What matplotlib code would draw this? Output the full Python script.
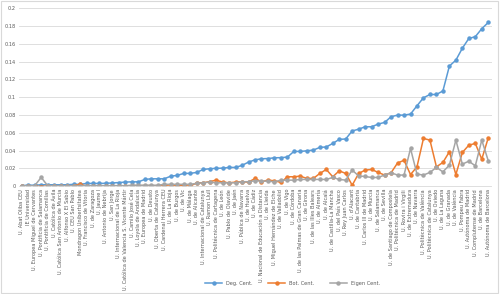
import matplotlib
matplotlib.use('Agg')
import matplotlib.pyplot as plt
from matplotlib.patches import Rectangle

universities = [
    'U. Abat Oliba CEU', 'IE Universidad', 'U. Europea Miguel de Cervantes',
    'U. Pontificia de Salamanca', 'U. Pontificia de Comillas', 'U. Católica de Ávila',
    'U. Católica San Antonio de Murcia', 'U. Alfonso X El Sabio', 'U. CEU San Pablo',
    'Mondragon Unibertsitatea', 'U. Francisco de Vitoria', 'U. de Zaragoza',
    'U. Jaume I', 'U. Antonio de Nebrija', 'U. San Jorge',
    'U. Internacional de La Rioja', 'U. Católica de Valencia S. Vicente Mártir',
    'U. Camilo José Cela', 'U. Loyola de Andalucía', 'U. Europea de Madrid',
    'U. de Deusto', 'U. Oberta de Catalunya', 'U. Cardenal Herrera CEU',
    'U. de La Rioja', 'U. de Burgos', 'U. de Vic', 'U. de Málaga', 'U. de Alicante',
    'U. Internacional de Catalunya', 'U. Ramon Llull', 'U. Politécnica de Cartagena',
    'U. de León', 'U. Pablo de Olavide', 'U. de Jaén', 'U. Pública de Navarra',
    'U. de Huelva', 'U. de Cádiz', 'U. Nacional de Educación a Distancia',
    'U. de Lleida', 'U. Miguel Hernández de Elche', 'U. de Valladolid', 'U. de Vigo',
    'U. de Córdoba', 'U. de las Palmas de Gran Canaria', 'U. de Girona',
    'U. de las Illes Balears', 'U. de Almería', 'U. de Alcalá',
    'U. de Castilla-La Mancha', 'U. del País Vasco', 'U. Rey Juan Carlos',
    "U. d'Alacant", 'U. de Cantabria',
    'U. Carlos III de Madrid', 'U. de Murcia', 'U. de Salamanca', 'U. de Sevilla',
    'U. de Santiago de Compostela', 'U. Politécnica de Madrid', 'U. Rovira i Virgili',
    'U. de Extremadura', 'U. de Navarra', 'U. Politècnica de València',
    'U. Politècnica de Catalunya', 'U. de Oviedo', 'U. de La Laguna', 'U. de Granada',
    'U. de València', 'U. Pompeu Fabra', 'U. Autónoma de Madrid',
    'U. Complutense de Madrid', 'U. de Barcelona', 'U. Autónoma de Barcelona',
]

deg_cent = [
    0.0005, 0.001, 0.001, 0.0015, 0.0015, 0.0015, 0.0015, 0.0015, 0.002, 0.002,
    0.003, 0.003, 0.003, 0.0032, 0.0035, 0.004, 0.0045, 0.0048, 0.0048, 0.0075,
    0.0082, 0.0082, 0.0082, 0.0112, 0.012, 0.0143, 0.0143, 0.0154, 0.0187, 0.0195,
    0.020, 0.0202, 0.021, 0.021, 0.0233, 0.027, 0.0295, 0.0307, 0.031, 0.0318,
    0.032, 0.0326, 0.039, 0.039, 0.0397, 0.0405, 0.0435, 0.044, 0.048, 0.0525,
    0.053, 0.062, 0.064, 0.0667, 0.0667, 0.0697, 0.0716, 0.078, 0.0798, 0.0798,
    0.081, 0.0903, 0.0993, 0.103, 0.103, 0.107, 0.135, 0.1416, 0.155, 0.166,
    0.168, 0.177, 0.184,
]

bot_cent = [
    0.0, 0.0, 0.0, -0.0005, 0.0, 0.0, 0.0, 0.0, 0.0005, 0.002,
    0.0, 0.0, 0.0, 0.0, 0.0, 0.0, 0.0, 0.0005, 0.0005, 0.0005,
    0.0005, 0.0, 0.0005, 0.0, 0.0005, 0.0005, 0.0, 0.0037, 0.0037, 0.005,
    0.0067, 0.0045, 0.0037, 0.0045, 0.0049, 0.0045, 0.0086, 0.0049, 0.0067, 0.006,
    0.0041, 0.0105, 0.0105, 0.0112, 0.0086, 0.0086, 0.0142, 0.0187, 0.0105, 0.0172,
    0.0142, 0.001, 0.0142, 0.018, 0.0187, 0.0154, 0.0124, 0.015, 0.026, 0.029,
    0.013, 0.0217, 0.0536, 0.0517, 0.0217, 0.0266, 0.0386, 0.013, 0.0378, 0.046,
    0.048, 0.0303, 0.0543,
]

eigen_cent = [
    0.0005, 0.0005, 0.0005, 0.0098, 0.0005, 0.0005, 0.0005, 0.0005, 0.0005, 0.0005,
    0.0005, 0.0005, 0.0005, 0.0005, 0.0005, 0.0005, 0.0005, 0.001, 0.001, 0.001,
    0.001, 0.001, 0.002, 0.002, 0.002, 0.002, 0.002, 0.003, 0.0037, 0.0045,
    0.0037, 0.0037, 0.0037, 0.0037, 0.0049, 0.0049, 0.006, 0.0056, 0.0056, 0.0049,
    0.0067, 0.0067, 0.0067, 0.0075, 0.0075, 0.0075, 0.0075, 0.0075, 0.0097, 0.0075,
    0.0067, 0.018, 0.0114, 0.0108, 0.0097, 0.0097, 0.0124, 0.015, 0.0124, 0.0124,
    0.0423, 0.0135, 0.0124, 0.0154, 0.021, 0.016, 0.0236, 0.0517, 0.0247, 0.028,
    0.0228, 0.0517, 0.0285,
]

series_names = ['Deg. Cent.', 'Bot. Cent.', 'Eigen Cent.']
colors = ['#5B9BD5', '#ED7D31', '#A5A5A5']

fig = plt.figure(figsize=(5, 2.94), dpi=100)
ax = fig.add_axes([0.037, 0.367, 0.946, 0.605])

x = range(len(universities))
for vals, name, c in zip([deg_cent, bot_cent, eigen_cent], series_names, colors):
    ax.plot(x, vals, color=c, lw=1.1, marker='o', ms=2.2, label=name)

ax.set_xlim(-0.5, len(universities) - 0.5)
ax.set_ylim(0, 0.2)
ax.set_yticks([i * 0.02 for i in range(11)])
ax.set_yticklabels(['0', '0.02', '0.04', '0.06', '0.08', '0.1', '0.12',
                    '0.14', '0.16', '0.18', '0.2'], fontsize=3.6, color='#595959')
ax.set_xticks(list(x))
ax.set_xticklabels(universities, rotation=90, fontsize=3.6, color='#595959',
                   va='top', ha='center')
ax.tick_params(length=0, pad=2)
ax.grid(axis='y', color='#D9D9D9', lw=0.6)
ax.set_axisbelow(True)
for s in ['top', 'right', 'left']:
    ax.spines[s].set_visible(False)
ax.spines['bottom'].set_color('#D9D9D9')
ax.spines['bottom'].set_linewidth(0.6)

fig.legend(loc='center', bbox_to_anchor=(0.585, 0.037), ncol=3, frameon=False,
           fontsize=3.6, handlelength=3.5, columnspacing=3, labelcolor='#595959')

fig.patches.append(Rectangle((0.002, 0.004), 0.994, 0.992, transform=fig.transFigure,
                             fill=False, edgecolor='#D9D9D9', lw=0.8))

fig.savefig('out.png', dpi=100)
